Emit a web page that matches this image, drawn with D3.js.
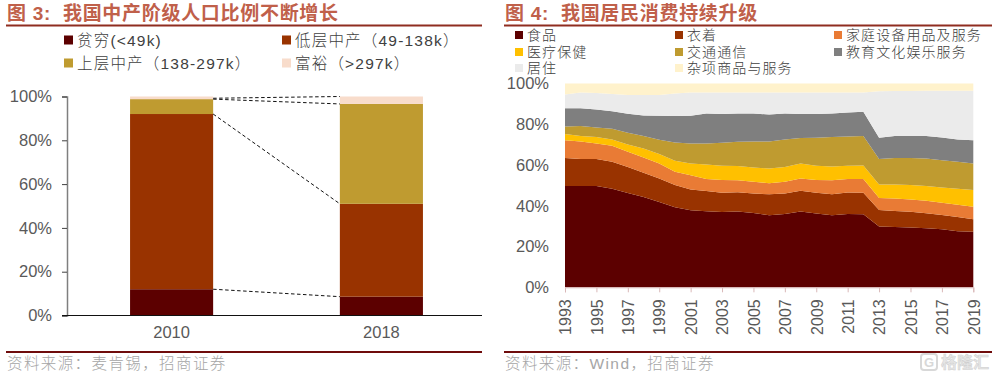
<!DOCTYPE html>
<html>
<head>
<meta charset="utf-8">
<script src="https://cdn.jsdelivr.net/npm/d3@7"></script>
<style>
html, body { margin: 0; padding: 0; background: #fff; }
svg { display: block; }
text { font-family: "Liberation Sans", "Noto Sans CJK SC", sans-serif; }
</style>
</head>
<body>
<div id="chart"></div>
<script>
// left chart data
var classYears = ["2010", "2018"];
var classKeys = ["poor", "lower", "upper", "rich"];
var classLabels = ["贫穷(<49k)", "低层中产（49-138k）", "上层中产（138-297k）", "富裕（>297k）"];
var classColors = ["#5c0000", "#993300", "#bf9b30", "#f8dccb"];
var poor = [12, 8.6];
var lower = [80, 42.4];
var upper = [6.8, 45.6];
var rich = [1.2, 3.4];
var connectFrom = [12, 92, 98.8, 99.2];
var connectTo = [8.6, 51, 96.6, 100];
var pctTicks = [0, 20, 40, 60, 80, 100];

// right chart data
var years = d3.range(1993, 2020);
var yearTicks = d3.range(1993, 2020, 2);
var spendKeys = ["food", "clothing", "household", "health", "transport", "education", "housing", "misc"];
var spendLabels = ["食品", "衣着", "家庭设备用品及服务", "医疗保健", "交通通信", "教育文化娱乐服务", "居住", "杂项商品与服务"];
var spendColors = ["#5c0000", "#993300", "#e97b35", "#ffc000", "#bf9b30", "#7f7f7f", "#ebebeb", "#fff2cc"];
var food = [49.7,49.7,49.7,48.3,46.3,44.3,41.8,39.3,37.8,37.3,36.9,37.2,36.4,35.4,36,37.2,36.2,35.4,36,35.9,29.8,29.6,29.4,29,28.5,27.5,27.3];
var clothing = [13.7,13.2,13.2,13.3,12.7,11.9,11.6,10.9,10.2,9.9,9.5,9.5,9.6,10.2,10,10.2,10.2,10.3,10.5,10.5,8.1,7.8,7.7,7.3,7,7,6.1];
var household = [8.8,8.7,7.7,7.8,7.5,7.5,7.4,6.5,7,5.9,6.2,5.8,5.8,5.5,5.8,6,6.2,6.8,6.6,6.7,5.9,6.2,6,6.2,6,6,6.1];
var health = [3,2.7,3.1,3.1,3.6,4.4,4.6,5.4,5.8,7.2,7,7,7,7.2,7.2,7.4,7,6.8,6.5,6.7,6.7,6.9,7.1,7.2,7.5,7.9,8.2];
var transport = [3.7,4.8,4.7,5.3,5.7,6.1,7,9,9.8,10.3,11.3,11.9,12.8,13.3,13.5,12.4,13.8,14.4,14.4,14.4,12.4,12.9,13.2,13.5,13.4,13.2,13.1];
var education = [9,8.8,8.9,8.6,9.3,10.1,11.8,12.9,13.6,14.7,14.1,13.9,13.7,13.2,12.8,11.8,11.6,11.6,11.8,11.9,10.5,10.8,10.9,11.1,11.1,10.9,11.4];
var housing = [6.7,7.7,8.1,8.4,9.3,10,10.1,11.1,11.4,10.3,10.6,10.3,10.3,10.8,10.3,10.6,10.6,10.3,9.8,9.5,22.8,22.1,22,22.1,22.9,23.9,24.2];
var misc = [5.4,4.4,4.6,5.2,5.6,5.7,5.7,4.9,4.4,4.4,4.4,4.4,4.4,4.4,4.4,4.4,4.4,4.4,4.4,4.4,3.8,3.7,3.7,3.6,3.6,3.6,3.6];

var titleColor = "#c0604a";
var ruleColor = "#6f0c0c";
var tickColor = "#595959";
var sourceColor = "#a6a6a6";

var svg = d3.select("#chart")
    .append("svg")
    .attr("width", 995)
    .attr("height", 378);

// title, rules and source line for each panel
function frame(x0, x1, title, source) {
    svg.append("text")
        .attr("x", x0 + 1)
        .attr("y", 20)
        .attr("font-size", 19)
        .attr("font-weight", 700)
        .attr("letter-spacing", 0.7)
        .attr("fill", titleColor)
        .attr("xml:space", "preserve")
        .text(title);
    svg.append("line")
        .attr("x1", x0).attr("x2", x1)
        .attr("y1", 25.5).attr("y2", 25.5)
        .attr("stroke", "#8f2d20")
        .attr("stroke-width", 2);
    svg.append("line")
        .attr("x1", x0).attr("x2", x1)
        .attr("y1", 352).attr("y2", 352)
        .attr("stroke", ruleColor)
        .attr("stroke-width", 2);
    svg.append("text")
        .attr("x", x0 + 1)
        .attr("y", 369)
        .attr("font-size", 15.5)
        .attr("font-weight", 300)
        .attr("letter-spacing", 1.4)
        .attr("fill", sourceColor)
        .text(source);
}

frame(6, 482, "图 3:  我国中产阶级人口比例不断增长", "资料来源：麦肯锡，招商证券");
frame(504, 992, "图 4:  我国居民消费持续升级", "资料来源：Wind，招商证券");

// ---- left chart: stacked bars
var xBand = d3.scaleBand()
    .domain(classYears)
    .range([66.7, 486.3])
    .paddingInner(0.604)
    .paddingOuter(0.302);
var yLeft = d3.scaleLinear().domain([0, 100]).range([315.5, 96.5]);

var classRows = classYears.map(function(y, i) {
    return {year: y, poor: poor[i], lower: lower[i], upper: upper[i], rich: rich[i]};
});
var classStack = d3.stack().keys(classKeys)(classRows);

svg.append("g")
    .selectAll("g")
    .data(classStack)
    .join("g")
    .attr("fill", function(d, i) { return classColors[i]; })
    .selectAll("rect")
    .data(function(d) { return d; })
    .join("rect")
    .attr("x", function(d) { return xBand(d.data.year); })
    .attr("width", xBand.bandwidth())
    .attr("y", function(d) { return yLeft(d[1]); })
    .attr("height", function(d) { return yLeft(d[0]) - yLeft(d[1]); });

// dashed links between the two bars
svg.append("g")
    .selectAll("line")
    .data(connectFrom)
    .join("line")
    .attr("x1", xBand(classYears[0]) + xBand.bandwidth())
    .attr("x2", xBand(classYears[1]))
    .attr("y1", function(d) { return yLeft(d); })
    .attr("y2", function(d, i) { return yLeft(connectTo[i]); })
    .attr("stroke", "#111")
    .attr("stroke-width", 1)
    .attr("stroke-dasharray", "3.5,2.5");

var leftAxis = svg.append("g")
    .attr("transform", "translate(67,0)")
    .call(d3.axisLeft(yLeft).tickValues(pctTicks).tickFormat(function(d) { return d + "%"; }).tickSize(5).tickPadding(10));
leftAxis.select(".domain").attr("stroke", "#7f7f7f").attr("stroke-width", 1.5);
leftAxis.selectAll(".tick line").attr("stroke", "#404040");
leftAxis.selectAll("text").attr("font-size", 16.5).attr("font-family", null).attr("fill", tickColor);

var bottomAxis = svg.append("g")
    .attr("transform", "translate(0,315.5)")
    .call(d3.axisBottom(xBand).tickSize(0).tickPadding(11));
bottomAxis.select(".domain").remove();
bottomAxis.selectAll("text").attr("font-size", 16.5).attr("font-family", null).attr("fill", tickColor);
svg.append("line")
    .attr("x1", 62).attr("x2", 482)
    .attr("y1", 315.5).attr("y2", 315.5)
    .attr("stroke", "#111")
    .attr("stroke-width", 1);

// left legend
var leftCols = [64, 282], leftRows = [40, 63];
classLabels.forEach(function(label, i) {
    var lx = leftCols[i % 2], ly = leftRows[Math.floor(i / 2)];
    svg.append("rect")
        .attr("x", lx).attr("y", ly - 4.5)
        .attr("width", 9).attr("height", 9)
        .attr("fill", classColors[i]);
    svg.append("text")
        .attr("x", lx + 13).attr("y", ly + 5.5)
        .attr("font-size", 15.5)
        .attr("font-weight", 300)
        .attr("letter-spacing", 1.2)
        .attr("fill", "#404040")
        .text(label);
});

// ---- right chart: stacked area
var xYear = d3.scaleLinear().domain([1993, 2019]).range([565, 973.3]);
var yRight = d3.scaleLinear().domain([0, 100]).range([287.3, 83.5]);

var spendRows = years.map(function(y, i) {
    return {year: y, food: food[i], clothing: clothing[i], household: household[i], health: health[i],
        transport: transport[i], education: education[i], housing: housing[i], misc: misc[i]};
});
var spendStack = d3.stack().keys(spendKeys)(spendRows);

var area = d3.area()
    .x(function(d) { return xYear(d.data.year); })
    .y0(function(d) { return yRight(d[0]); })
    .y1(function(d) { return yRight(d[1]); });

svg.append("g")
    .selectAll("path")
    .data(spendStack)
    .join("path")
    .attr("fill", function(d, i) { return spendColors[i]; })
    .attr("d", area);

var rightY = svg.append("g")
    .attr("transform", "translate(565,0)")
    .call(d3.axisLeft(yRight).tickValues(pctTicks).tickFormat(function(d) { return d + "%"; }).tickSize(0).tickPadding(16));
rightY.select(".domain").remove();
rightY.selectAll("text").attr("font-size", 16.5).attr("font-family", null).attr("fill", tickColor);

var rightX = svg.append("g")
    .attr("transform", "translate(0,287.3)")
    .call(d3.axisBottom(xYear).tickValues(yearTicks).tickFormat(d3.format("d")).tickSize(5));
rightX.select(".domain").attr("stroke", "#d9b8b8");
rightX.selectAll(".tick line").attr("stroke", "#d9b8b8");
rightX.selectAll("text")
    .attr("font-size", 16)
    .attr("font-family", null)
    .attr("fill", tickColor)
    .attr("text-anchor", "end")
    .attr("transform", "rotate(-90)")
    .attr("x", -12)
    .attr("y", 0)
    .attr("dy", "0.36em");

// right legend
var rightCols = [515, 675, 834], rightRows = [35, 52, 68];
spendLabels.forEach(function(label, i) {
    var lx = rightCols[i % 3], ly = rightRows[Math.floor(i / 3)];
    svg.append("rect")
        .attr("x", lx).attr("y", ly - 4)
        .attr("width", 8).attr("height", 8)
        .attr("fill", spendColors[i]);
    svg.append("text")
        .attr("x", lx + 12).attr("y", ly + 5)
        .attr("font-size", 14)
        .attr("font-weight", 300)
        .attr("letter-spacing", 1.1)
        .attr("fill", "#404040")
        .text(label);
});

// watermark
svg.append("rect")
    .attr("x", 921).attr("y", 354)
    .attr("width", 16).attr("height", 16)
    .attr("rx", 3)
    .attr("fill", "none")
    .attr("stroke", "#d8d8d8")
    .attr("stroke-width", 2);
svg.append("text")
    .attr("x", 929).attr("y", 367)
    .attr("text-anchor", "middle")
    .attr("font-size", 13)
    .attr("font-weight", 700)
    .attr("fill", "#d8d8d8")
    .text("G");
svg.append("text")
    .attr("x", 941).attr("y", 368)
    .attr("font-size", 16)
    .attr("font-weight", 700)
    .attr("fill", "#e6e6e6")
    .attr("stroke", "#cfcfcf")
    .attr("stroke-width", 0.5)
    .text("格隆汇");
</script>
</body>
</html>
